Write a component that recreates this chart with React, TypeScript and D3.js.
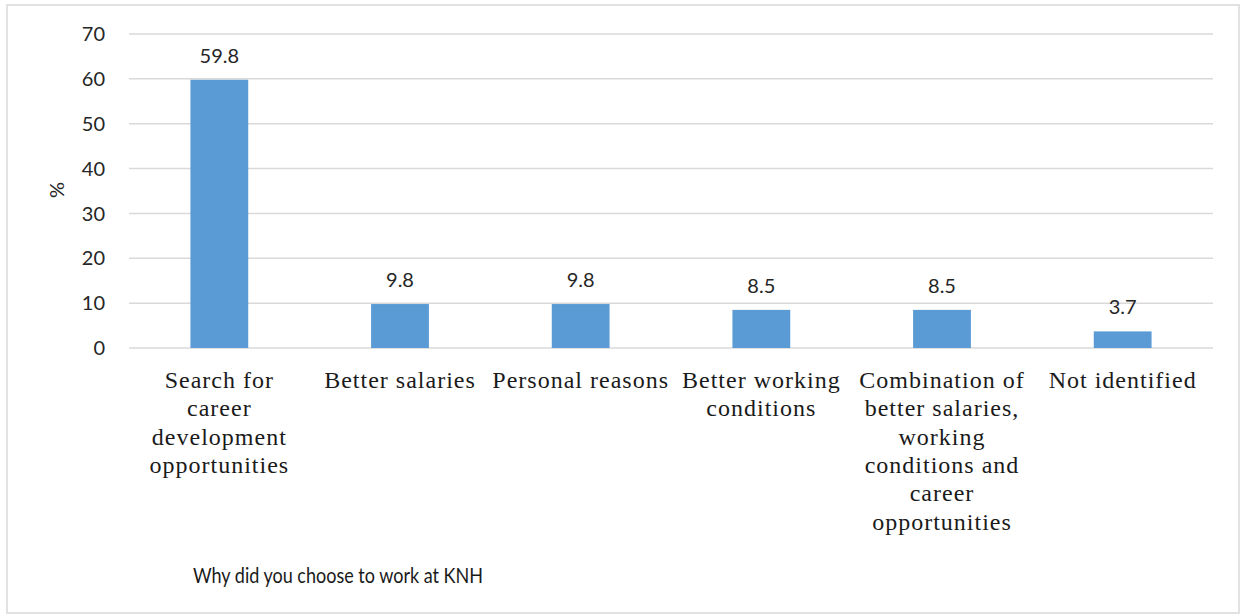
import React from "react";
import * as d3 from "d3";

const categories: string[][] = [
  ["Search for", "career", "development", "opportunities"],
  ["Better salaries"],
  ["Personal reasons"],
  ["Better working", "conditions"],
  ["Combination of", "better salaries,", "working", "conditions and", "career", "opportunities"],
  ["Not identified"],
];
const values: number[] = [59.8, 9.8, 9.8, 8.5, 8.5, 3.7];
const yTicks: number[] = [0, 10, 20, 30, 40, 50, 60, 70];
const yAxisLabel = "%";
const xAxisTitle = "Why did you choose to work at KNH";

const W = 1244;
const H = 615;
const plot = { left: 129, right: 1213, top: 34, bottom: 348 };

export default function App() {
  const x = d3
    .scaleBand<number>()
    .domain(values.map((_, i) => i))
    .range([plot.left, plot.right])
    .paddingInner(0.68)
    .paddingOuter(0.34);
  const y = d3.scaleLinear().domain([0, 70]).range([plot.bottom, plot.top]);
  const sans = "Lato, 'Open Sans', sans-serif";
  const serif = "'Liberation Serif', 'DejaVu Serif', serif";

  return (
    <svg
      width={W}
      height={H}
      style={{ position: "absolute", left: 0, top: 0, display: "block", background: "#fff" }}
    >
      <rect x={7} y={5} width={1232} height={608} fill="#fff" stroke="#d9d9d9" strokeWidth={1.5} />
      {yTicks.map((t) => (
        <g key={t}>
          <line x1={plot.left} x2={plot.right} y1={y(t)} y2={y(t)} stroke="#d9d9d9" strokeWidth={1.5} />
          <text
            x={105}
            y={y(t)}
            dy="0.36em"
            textAnchor="end"
            fontFamily={sans}
            fontSize={20}
            fill="#262626"
          >
            {t}
          </text>
        </g>
      ))}
      {values.map((v, i) => {
        const bx = x(i)!;
        const bw = x.bandwidth();
        const cx = bx + bw / 2;
        return (
          <g key={i}>
            <rect x={bx} y={y(v)} width={bw} height={y(0) - y(v)} fill="#5b9bd5" />
            <text
              x={cx}
              y={y(v) - 17}
              textAnchor="middle"
              fontFamily={sans}
              fontSize={20}
              fill="#262626"
            >
              {v.toFixed(1)}
            </text>
            {categories[i].map((line, j) => (
              <text
                key={j}
                x={cx}
                y={388 + j * 28.3}
                textAnchor="middle"
                fontFamily={serif}
                fontSize={24}
                letterSpacing={1}
                fill="#1a1a1a"
              >
                {line}
              </text>
            ))}
          </g>
        );
      })}
      <text
        transform={`translate(64, 190) rotate(-90)`}
        textAnchor="middle"
        fontFamily={sans}
        fontSize={20}
        fill="#262626"
      >
        {yAxisLabel}
      </text>
      <text
        x={193}
        y={583}
        fontFamily={sans}
        fontSize={21}
        fill="#1a1a1a"
        textLength={290}
        lengthAdjust="spacingAndGlyphs"
      >
        {xAxisTitle}
      </text>
    </svg>
  );
}
